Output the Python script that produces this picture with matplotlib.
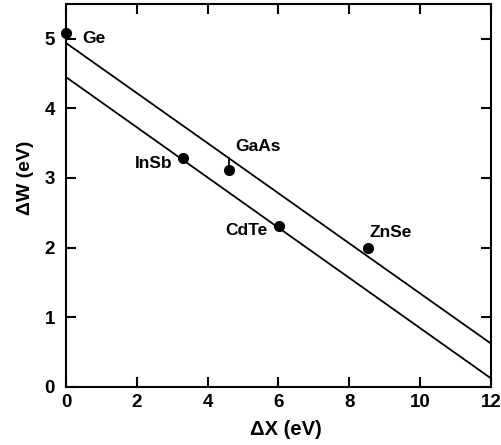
import matplotlib
matplotlib.use("Agg")
import matplotlib.pyplot as plt

# semiconductors: electronegativity difference vs. work-function difference
names = ["Ge", "InSb", "GaAs", "CdTe", "ZnSe"]
dx = [0.0, 3.30, 4.61, 6.01, 8.52]
dw = [5.09, 3.28, 3.11, 2.31, 2.00]

# two bounding lines (end points)
line_x = [0, 12]
upper_w = [4.94, 0.62]
lower_w = [4.45, 0.12]

# label anchor positions (data units) and alignment
label_x = [0.47, 3.02, 4.77, 4.49, 8.57]
label_y = [5.00, 3.21, 3.45, 2.25, 2.21]
label_ha = ["left", "right", "left", "left", "left"]

x_ticks = [0, 2, 4, 6, 8, 10, 12]
y_ticks = [0, 1, 2, 3, 4, 5]

plt.rcParams["font.family"] = ["Liberation Sans", "DejaVu Sans"]
plt.rcParams["font.weight"] = "bold"

fig = plt.figure(figsize=(5.01, 4.45), dpi=100)
ax = fig.add_axes([0.1317, 0.131, 0.8483, 0.860])

ax.plot(line_x, upper_w, color="black", lw=1.3)
ax.plot(line_x, lower_w, color="black", lw=1.3)

# GaAs has a short stub up to the upper line
ax.plot([dx[2], dx[2]], [dw[2], 4.94 - 0.36 * dx[2]], color="black", lw=1.3)

ax.plot(dx, dw, "o", color="black", ms=7, clip_on=False, zorder=5)

for n, lx, ly, ha in zip(names, label_x, label_y, label_ha):
    ax.text(lx, ly, n, ha=ha, va="center", fontsize=12.5, fontweight="bold")

ax.set_xlim(0, 12)
ax.set_ylim(0, 5.5)
ax.set_xticks(x_ticks)
ax.set_yticks(y_ticks)
ax.tick_params(direction="in", length=7, width=1.5, top=True, right=True,
               labelsize=13.5)
ax.tick_params(axis="y", pad=8)
ax.tick_params(axis="x", pad=5)
for lab in ax.get_xticklabels() + ax.get_yticklabels():
    lab.set_fontweight("bold")
for s in ax.spines.values():
    s.set_linewidth(1.5)

ax.set_xlabel("ΔX (eV)", fontsize=14.5, fontweight="bold")
ax.set_ylabel("ΔW (eV)", fontsize=14, fontweight="bold")
ax.xaxis.set_label_coords(0.517, -0.088)
ax.yaxis.set_label_coords(-0.076, 0.547)

fig.savefig("out.png", dpi=100)
